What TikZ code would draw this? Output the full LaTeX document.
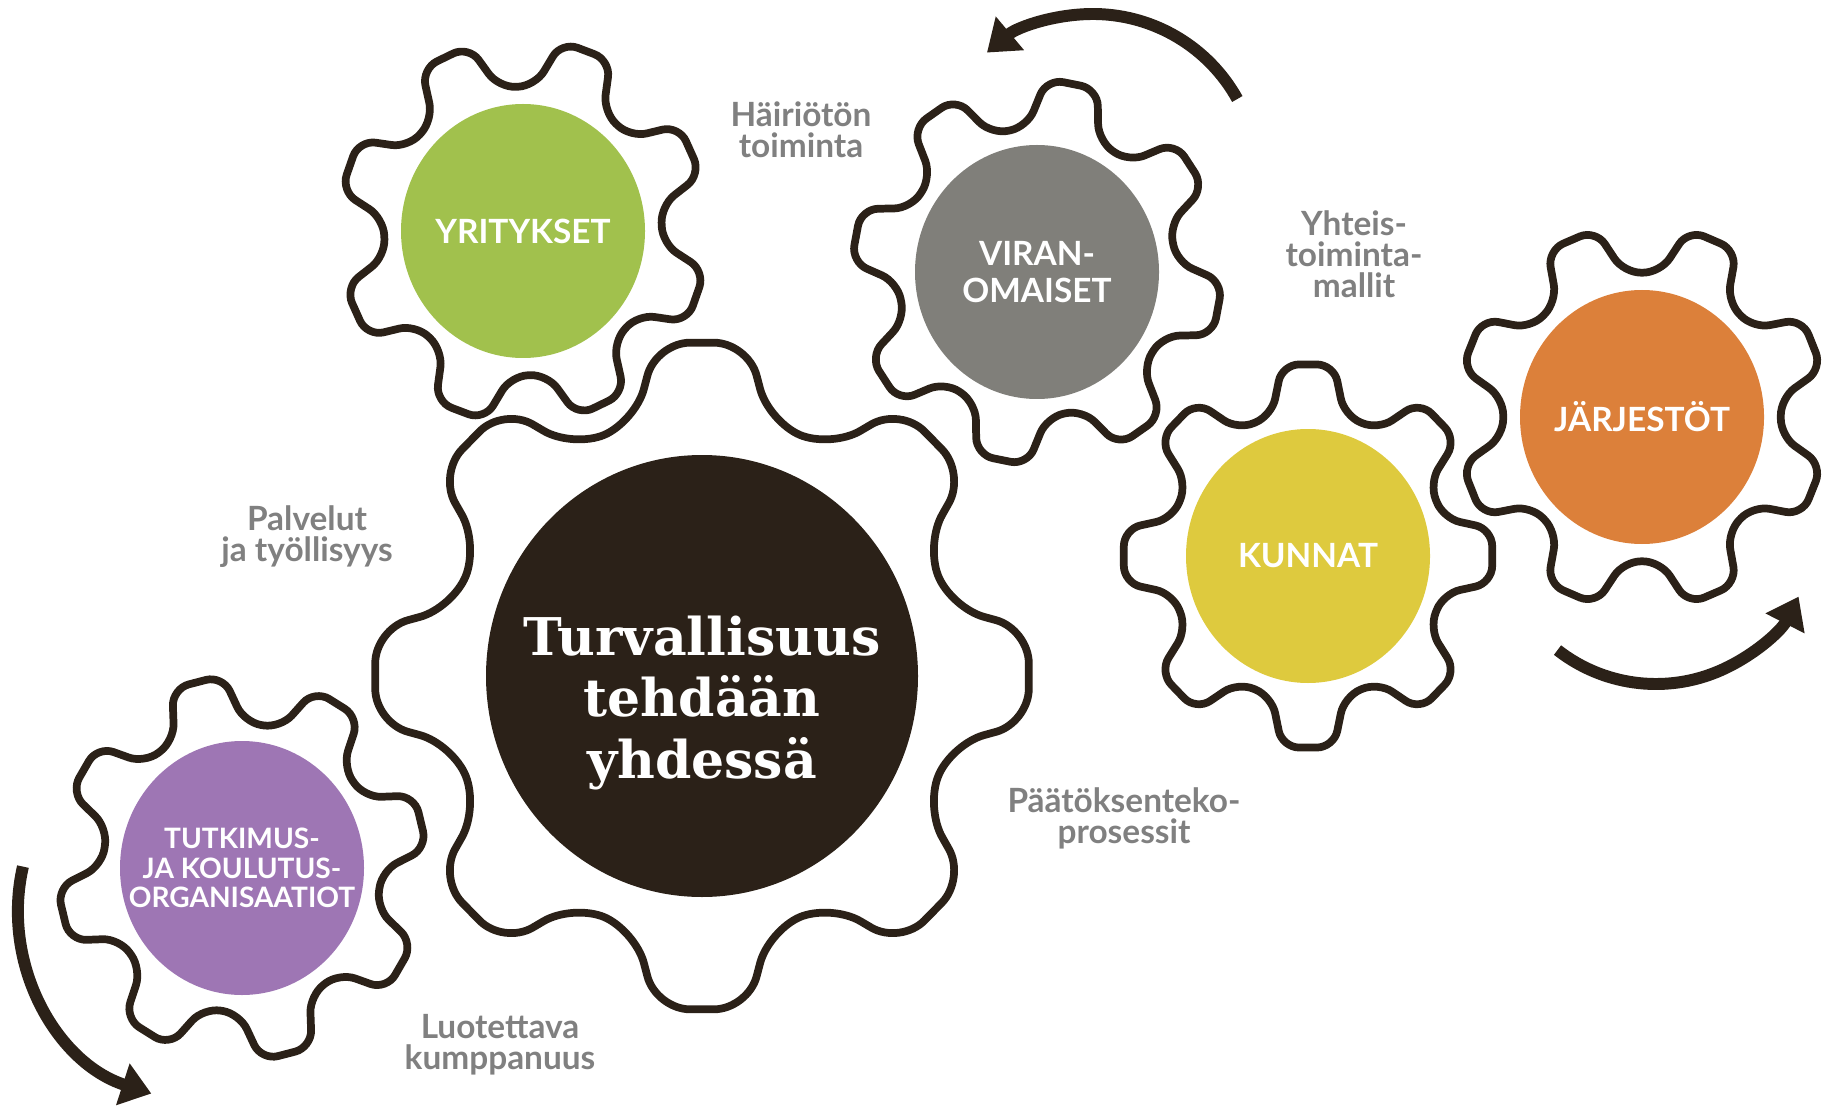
\documentclass[tikz,border=0pt]{standalone}
\usepackage{fontspec}
\setmainfont{Lato}
\newfontfamily\slabfont{DejaVu Serif}
\usetikzlibrary{arrows.meta,shapes.geometric}

\definecolor{gearbrown}{RGB}{43,33,24}
\definecolor{yrigreen}{RGB}{161,193,77}
\definecolor{virgray}{RGB}{128,127,122}
\definecolor{kunyellow}{RGB}{222,202,62}
\definecolor{jarorange}{RGB}{220,128,58}
\definecolor{tutpurple}{RGB}{158,118,180}
\definecolor{textgray}{RGB}{128,128,128}

% outline of a gear round a node: node, first tooth angle, root, tip, corner, yscale
\newcommand{\gearat}[6]{%
  \draw[gearline,shift={(#1.center)},yscale=#6,rounded corners=#5]
    (#2-8:#4)
    \foreach \t in {0,...,6}{
      -- (#2+45*\t+8:#4)
      -- (#2+45*\t+15:#3)
      -- (#2+45*\t+30:#3)
      -- (#2+45*\t+37:#4)
    }
    -- (#2+323:#4) -- (#2+330:#3) -- (#2+345:#3) -- cycle;
}

\begin{document}
\begin{tikzpicture}[
    disc/.style={ellipse,inner sep=0pt,minimum width=2.44cm,minimum height=2.54cm},
    disctext/.style={text=white,align=center,inner sep=0pt,
      font=\bfseries\fontsize{9.5}{10.5}\selectfont},
    note/.style={text=textgray,align=center,
      font=\bfseries\fontsize{9.5}{8.8}\selectfont},
    gearline/.style={draw=gearbrown,line width=2.2pt},
    turn/.style={draw=gearbrown,line width=3.4pt,
      -{Triangle[length=0.3cm,width=0.42cm]}}]
    \useasboundingbox (0,0) rectangle (18.25,-11.12);

    \node[disc,fill=gearbrown,minimum width=4.32cm,minimum height=4.42cm] at (7.02,-6.76) (big) {};
    \node[disc,fill=yrigreen] at (5.23,-2.31) (yri) {};
    \node[disc,fill=virgray] at (10.37,-2.72) (vir) {};
    \node[disc,fill=kunyellow] at (13.08,-5.56) (kun) {};
    \node[disc,fill=jarorange] at (16.42,-4.17) (jar) {};
    \node[disc,fill=tutpurple] at (2.42,-8.68) (tut) {};

    \node[disctext,font=\slabfont\bfseries\fontsize{14.8}{17.6}\selectfont] at ([yshift=-0.27cm]big.center) (bigtext)
      {Turvallisuus\\tehdään\\yhdessä};
    \node[disctext] at (yri) (yritext) {YRITYKSET};
    \node[disctext] at (vir) (virtext) {VIRAN-\\OMAISET};
    \node[disctext] at (kun) (kuntext) {KUNNAT};
    \node[disctext] at (jar) (jartext) {JÄRJESTÖT};
    \node[disctext,font=\bfseries\fontsize{8}{8.4}\selectfont] at (tut) (tuttext)
      {TUTKIMUS-\\JA KOULUTUS-\\ORGANISAATIOT};

    \gearat{big}{0}{2.58}{3.30}{0.34cm}{1.02}
    \gearat{yri}{25}{1.40}{1.86}{0.17cm}{1.04}
    \gearat{vir}{34}{1.40}{1.86}{0.17cm}{1.04}
    \gearat{kun}{0}{1.40}{1.86}{0.17cm}{1.04}
    \gearat{jar}{22.5}{1.40}{1.86}{0.17cm}{1.04}
    \gearat{tut}{14}{1.40}{1.86}{0.17cm}{1.04}

    \draw[turn] ([shift={(0.56,0.93)},shift={(29:1.65)}]vir.center)
      arc[start angle=29,end angle=130,radius=1.65];
    \draw[turn] ([shift={(0.14,-1.07)},shift={(232:1.6)}]jar.center)
      arc[start angle=232,end angle=333,radius=1.6];
    \draw[turn] ([shift={(-0.31,-0.42)},shift={(167:1.93)}]tut.center)
      arc[start angle=167,end angle=252,radius=1.93];

    \node[note] at (8.01,-1.30) (hairio) {Häiriötön\\toiminta};
    \node[note] at (13.54,-2.54) (yhteis) {Yhteis-\\toiminta-\\mallit};
    \node[note] at (3.07,-5.37) (palvelut) {Palvelut\\ja työllisyys};
    \node[note] at (11.24,-8.18) (paatos) {Päätöksenteko-\\prosessit};
    \node[note] at (5.00,-10.45) (luotettava) {Luotettava\\kumppanuus};
\end{tikzpicture}
\end{document}
